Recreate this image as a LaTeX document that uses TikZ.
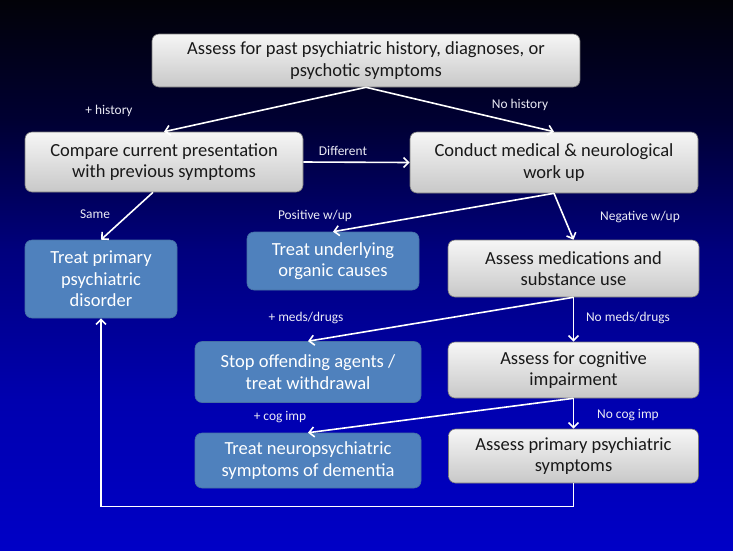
\documentclass[tikz,border=0pt]{standalone}
\usepackage{fontspec}
\setmainfont{Carlito}
\usetikzlibrary{arrows.meta}
\definecolor{bgA}{RGB}{2,2,8}
\definecolor{bgB}{RGB}{0,0,50}
\definecolor{bgC}{RGB}{0,0,125}
\definecolor{bgD}{RGB}{0,0,175}
\definecolor{bgE}{RGB}{0,0,198}
\definecolor{greyTop}{RGB}{246,246,246}
\definecolor{greyBot}{RGB}{200,200,200}
\definecolor{greyEdge}{RGB}{120,120,120}
\definecolor{blueBox}{RGB}{79,129,189}
\definecolor{blueEdge}{RGB}{70,112,165}
\definecolor{labelCol}{RGB}{235,235,245}
\pgfdeclareverticalshading{bgshade}{100bp}{color(0bp)=(bgE); color(25bp)=(bgE); color(38.6bp)=(bgD); color(52.3bp)=(bgC); color(64.1bp)=(bgB); color(75bp)=(bgA); color(100bp)=(bgA)}
\tikzset{
  greybox/.style={rectangle, rounded corners=7pt, draw=greyEdge, line width=0.6pt,
    top color=greyTop, bottom color=greyBot, text=black!90, align=center,
    inner sep=0pt, font=\fontsize{18.5}{21.5}\selectfont},
  bluebox/.style={rectangle, rounded corners=7pt, draw=blueEdge, line width=0.6pt,
    fill=blueBox, text=white, align=center,
    inner sep=0pt, font=\fontsize{18.5}{21.5}\selectfont},
  lbl/.style={text=labelCol, font=\fontsize{13.4}{15}\selectfont, inner sep=0pt},
  arr/.style={draw=white, line width=1.6pt, -{Straight Barb[length=5pt,width=10pt,line width=1.6pt]}},
}
\begin{document}
\begin{tikzpicture}[x=1pt,y=-1pt]
\shade[shading=bgshade] (0,0) rectangle (733,550);
\useasboundingbox (0,0) rectangle (733,550);

\node[greybox, minimum width=428, minimum height=53] (top) at (366,60.5)
  {Assess for past psychiatric history, diagnoses, or\\psychotic symptoms};
\node[greybox, minimum width=278, minimum height=60] (cmp) at (164,162)
  {Compare current presentation\\with previous symptoms};
\node[greybox, minimum width=288, minimum height=61] (cdt) at (554,162.5)
  {Conduct medical \& neurological\\work up};
\node[bluebox, minimum width=152, minimum height=78] (tp) at (101,279)
  {Treat primary\\psychiatric\\disorder};
\node[bluebox, minimum width=172, minimum height=58] (tu) at (333,261)
  {Treat underlying\\organic causes};
\node[greybox, minimum width=251, minimum height=57] (med) at (573.5,268.5)
  {Assess medications and\\substance use};
\node[bluebox, minimum width=226, minimum height=61] (stop) at (308,372)
  {Stop offending agents /\\treat withdrawal};
\node[greybox, minimum width=251, minimum height=56] (cog) at (573.5,370)
  {Assess for cognitive\\impairment};
\node[bluebox, minimum width=226, minimum height=55] (neu) at (308,460.5)
  {Treat neuropsychiatric\\symptoms of dementia};
\node[greybox, minimum width=250, minimum height=54] (prim) at (573.5,456)
  {Assess primary psychiatric\\symptoms};

\node[lbl] (l1) at (109,111) {+ history};
\node[lbl] (l2) at (520,105) {No history};
\node[lbl] (l3) at (343,151) {Different};
\node[lbl] (l4) at (95,214) {Same};
\node[lbl] (l5) at (315,216) {Positive w/up};
\node[lbl] (l6) at (640,217) {Negative w/up};
\node[lbl] (l7) at (306,318) {+ meds/drugs};
\node[lbl] (l8) at (628,318) {No meds/drugs};
\node[lbl] (l9) at (280,417) {+ cog imp};
\node[lbl] (l10) at (628,415) {No cog imp};

\draw[arr] (top.south) -- (cmp.north);
\draw[arr] (top.south) -- (cdt.north);
\draw[arr] (cmp.east) -- (cdt.west);
\draw[arr] ([xshift=-11pt]cmp.south) -- (tp.north);
\draw[arr] (cdt.south) -- (tu.north);
\draw[arr] (cdt.south) -- (med.north);
\draw[arr] (med.south) -- (stop.north);
\draw[arr] (med.south) -- (cog.north);
\draw[arr] (cog.south) -- (neu.north);
\draw[arr] (cog.south) -- (prim.north);
\draw[arr] (prim.south) -- ++(0,23) -| (tp.south);
\end{tikzpicture}
\end{document}
